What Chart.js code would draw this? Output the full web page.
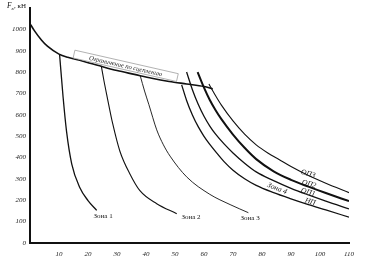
<!DOCTYPE html>
<html>
<head>
<meta charset="utf-8">
<script src="https://cdn.jsdelivr.net/npm/chart.js@4.4.1/dist/chart.umd.min.js"></script>
<style>
  html, body { margin: 0; padding: 0; background: #fff; }
  #wrap { width: 365px; height: 259px; }
</style>
</head>
<body>
<div id="wrap"><canvas id="traction" width="365" height="259"></canvas></div>
<script>
// tractive effort Fk (kN) vs speed (km/h)
var limitX = [0, 1.5, 4, 6, 10, 13, 18, 24, 30, 36, 42, 48, 54, 60, 63];
var limitY = [1028, 995, 950, 922, 885, 870, 853, 830, 808, 790, 772, 757, 745, 733, 722];

var zone1X = [10.2, 11.4, 12.6, 14.4, 17.2, 20, 23];
var zone1Y = [883, 685, 523, 370, 259, 199, 153];

var zone2X = [24.6, 25.5, 26.6, 28.5, 31, 34.5, 37.9, 43.7, 50.6];
var zone2Y = [828, 760, 685, 560, 430, 322, 245, 184, 137];

var zone3X = [38, 39.5, 41, 43.7, 46, 48.3, 54, 62, 69, 75.3];
var zone3Y = [784, 712, 648, 530, 460, 407, 310, 228, 180, 142];

var npX = [52.3, 54, 56, 58, 60, 62, 64, 67, 70, 74, 78, 84, 90, 96, 102, 110];
var npY = [741, 668, 600, 545, 500, 462, 428, 380, 341, 301, 270, 236, 207, 180, 155, 121];

var op1X = [54, 56, 58, 60, 62, 64, 67, 70, 74, 78, 84, 90, 96, 102, 110];
var op1Y = [801, 718, 650, 594, 548, 510, 463, 422, 374, 333, 292, 256, 225, 196, 160];

var op2X = [57.8, 60, 62, 64, 66, 70, 74, 78, 84, 90, 96, 102, 110];
var op2Y = [801, 728, 670, 622, 580, 508, 446, 393, 336, 296, 264, 234, 196];

var op3X = [61.7, 64, 66, 70, 74, 78, 82, 86, 90, 96, 102, 110];
var op3Y = [745, 690, 646, 572, 510, 460, 422, 390, 358, 316, 280, 236];

// curve captions (x = km/h, y = kN)
var curveNames = ['ОП3', 'ОП2', 'ОП1', 'НП', 'Зона 4'];
var curveNameX = [95.9, 96.2, 95.9, 96.6, 85.2];
var curveNameY = [324, 276, 237, 193, 255];

var zoneNames = ['Зона 1', 'Зона 2', 'Зона 3'];
var zoneNameX = [25.2, 55.5, 75.9];
var zoneNameY = [127, 120, 116];

var limitCaption = 'Ограничение по сцеплению';
var limitCaptionX = 33;
var limitCaptionY = 830;

var xTicks = [10, 20, 30, 40, 50, 60, 70, 80, 90, 100, 110];
var yTicks = [0, 100, 200, 300, 400, 500, 600, 700, 800, 900, 1000];

var SERIF = '"Liberation Serif", "DejaVu Serif", serif';

function pts(xs, ys) {
  var out = [];
  for (var i = 0; i < xs.length; i++) out.push({ x: xs[i], y: ys[i] });
  return out;
}

function curve(xs, ys, w) {
  return {
    data: pts(xs, ys),
    borderColor: '#111',
    borderWidth: w,
    pointRadius: 0,
    fill: false,
    cubicInterpolationMode: 'monotone',
    tension: 0.4
  };
}

var captions = {
  id: 'captions',
  afterDatasetsDraw: function(chart) {
    var ctx = chart.ctx;
    var sx = chart.scales.x, sy = chart.scales.y;
    ctx.save();
    ctx.fillStyle = '#111';
    ctx.textAlign = 'center';
    ctx.textBaseline = 'middle';

    // ОП / НП / Зона 4, tilted along the curves
    ctx.font = 'italic 7.5px ' + SERIF;
    curveNames.forEach(function(name, i) {
      ctx.save();
      ctx.translate(sx.getPixelForValue(curveNameX[i]), sy.getPixelForValue(curveNameY[i]));
      ctx.rotate((i === 4 ? 22 : 16) * Math.PI / 180);
      ctx.fillText(name, 0, 0);
      ctx.restore();
    });

    ctx.font = '7px ' + SERIF;
    zoneNames.forEach(function(name, i) {
      ctx.fillText(name, sx.getPixelForValue(zoneNameX[i]), sy.getPixelForValue(zoneNameY[i]));
    });

    // boxed caption on the adhesion limit
    ctx.save();
    ctx.translate(sx.getPixelForValue(limitCaptionX), sy.getPixelForValue(limitCaptionY));
    ctx.rotate(12.8 * Math.PI / 180);
    ctx.fillStyle = '#fff';
    ctx.fillRect(-53, -4, 106, 8);
    ctx.strokeStyle = '#999';
    ctx.lineWidth = 0.7;
    ctx.strokeRect(-53, -4, 106, 8);
    ctx.fillStyle = '#222';
    ctx.font = 'italic 6.5px ' + SERIF;
    ctx.fillText(limitCaption, 0, 0.5);
    ctx.restore();

    // axis title Fк, кН
    ctx.textAlign = 'left';
    ctx.textBaseline = 'alphabetic';
    ctx.font = 'italic 7.5px ' + SERIF;
    ctx.fillText('F', 7, 8);
    ctx.font = 'italic 5px ' + SERIF;
    ctx.fillText('к', 11.5, 9.5);
    ctx.font = '7px ' + SERIF;
    ctx.fillText(', кН', 14, 8);
    ctx.restore();
  }
};

new Chart(document.getElementById('traction'), {
  type: 'line',
  data: {
    datasets: [
      curve(limitX, limitY, 1.6),
      curve(zone1X, zone1Y, 1.3),
      curve(zone2X, zone2Y, 1.1),
      curve(zone3X, zone3Y, 0.9),
      curve(npX, npY, 1.3),
      curve(op1X, op1Y, 1.3),
      curve(op2X, op2Y, 2),
      curve(op3X, op3Y, 1.1)
    ]
  },
  options: {
    responsive: false,
    animation: false,
    devicePixelRatio: 1,
    layout: { padding: { top: 5, right: 16, left: 0, bottom: 0 } },
    plugins: { legend: { display: false }, tooltip: { enabled: false } },
    scales: {
      x: {
        type: 'linear',
        min: 0,
        max: 110,
        afterFit: function(s) { s.height = 16; },
        afterBuildTicks: function(s) { s.ticks = xTicks.map(function(v) { return { value: v }; }); },
        grid: { display: false, drawTicks: false },
        border: { display: true, color: '#111', width: 2 },
        ticks: {
          padding: 7,
          autoSkip: false,
          maxRotation: 0,
          color: '#222',
          font: { family: SERIF, size: 7, style: 'italic' },
          callback: function(v) { return String(v); }
        }
      },
      y: {
        type: 'linear',
        min: 0,
        max: 1100,
        afterFit: function(s) { s.width = 30; },
        afterBuildTicks: function(s) { s.ticks = yTicks.map(function(v) { return { value: v }; }); },
        grid: { display: false, drawTicks: false },
        border: { display: true, color: '#111', width: 2 },
        ticks: {
          padding: 4,
          autoSkip: false,
          color: '#222',
          font: { family: SERIF, size: 7, style: 'italic' },
          callback: function(v) { return String(v); }
        }
      }
    }
  },
  plugins: [captions]
});
</script>
</body>
</html>
